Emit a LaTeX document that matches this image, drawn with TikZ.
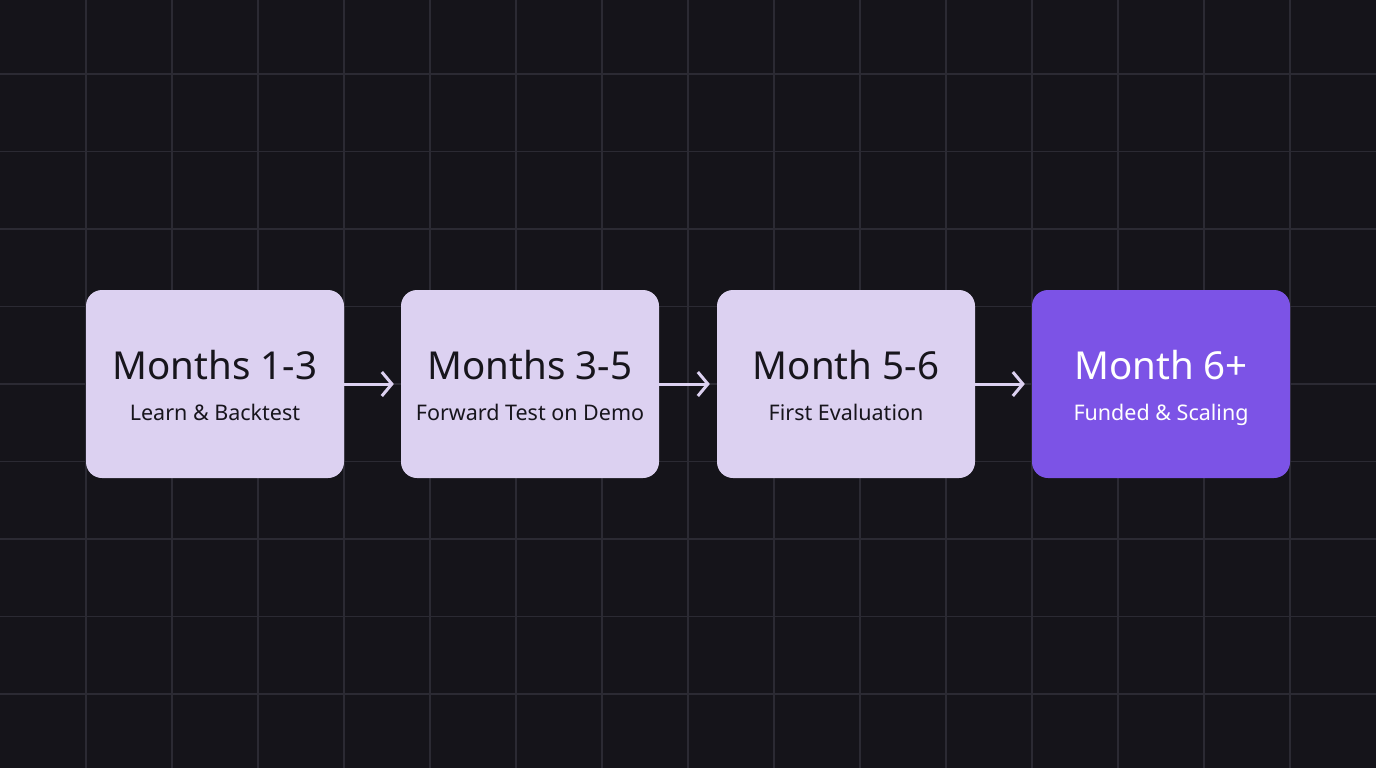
\documentclass[tikz,border=0pt]{standalone}
\usepackage{fontspec}
\setmainfont{Noto Sans}
\usetikzlibrary{positioning,arrows.meta,calc}
\definecolor{bgcol}{HTML}{15141A}
\definecolor{gridcol}{HTML}{2B2A33}
\definecolor{lavender}{HTML}{DCD1F1}
\definecolor{violet}{HTML}{7C53E6}
\definecolor{inkcol}{HTML}{17151C}
\tikzset{
  stage/.style={rounded corners=16pt,minimum width=258pt,minimum height=188pt,fill=lavender,inner sep=0pt},
  laststage/.style={stage,fill=violet},
  title/.style={font=\fontsize{38.5}{44}\selectfont,text=inkcol},
  sub/.style={font=\fontsize{21.5}{25}\selectfont,text=inkcol},
  link/.style={draw=lavender,line width=3pt,-{Straight Barb[length=10pt,width=24pt,line width=3pt]}}
}
\begin{document}
\begin{tikzpicture}[x=1pt,y=-1pt]
\fill[bgcol] (0,0) rectangle (1376,768);
\useasboundingbox (0,0) rectangle (1376,768);

% grid
\foreach \gx in {86,172,...,1290}
  \draw[gridcol,line width=1.5pt] (\gx,0) -- (\gx,768);
\foreach \gy in {74,151.5,229,306.5,384,461.5,539,616.5,694}
  \draw[gridcol,line width=1.5pt] (0,\gy) -- (1376,\gy);

% stages
\node[stage] (s1) at (215,384) {};
\node[stage] (s2) at (530,384) {};
\node[stage] (s3) at (846,384) {};
\node[laststage] (s4) at (1161,384) {};

\foreach \name/\top/\bottom/\tc in {s1/{Months 1-3}/{Learn \& Backtest}/inkcol,
    s2/{Months 3-5}/{Forward Test on Demo}/inkcol,
    s3/{Month 5-6}/{First Evaluation}/inkcol,
    s4/{Month 6+}/{Funded \& Scaling}/white}
{
  \node[title,text=\tc,anchor=base] (\name t) at ($(\name.center)+(0,-5)$) {\top};
  \node[sub,text=\tc,anchor=base] (\name b) at ($(\name.center)+(0,36)$) {\bottom};
}

% links
\foreach \src/\dst in {s1/s2,s2/s3,s3/s4}
  \path[link] (\src.east) -- ($(\dst.west)+(-7,0)$);
\end{tikzpicture}
\end{document}
